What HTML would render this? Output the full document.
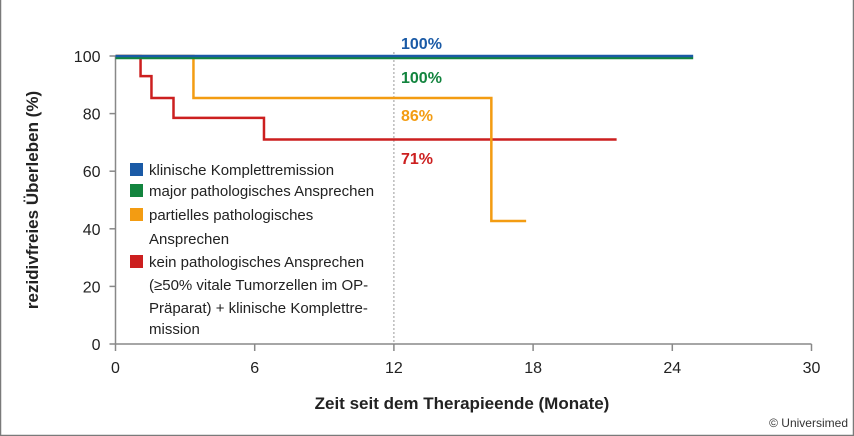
<!DOCTYPE html>
<html><head><meta charset="utf-8"><style>
body{margin:0;background:#fff}
svg{display:block;font-family:"Liberation Sans Narrow","Liberation Sans",sans-serif}
</style></head><body>
<svg width="854" height="436" viewBox="0 0 854 436">
<rect x="0.5" y="-2" width="853" height="437.5" fill="none" stroke="#7a7a7a" stroke-width="1.5"/>
<g id="axes"></g>
<g id="series"></g>
<text x="462" y="409" text-anchor="middle" font-size="17" font-weight="bold" fill="#222">Zeit seit dem Therapieende (Monate)</text>
<text transform="translate(38,200) rotate(-90)" text-anchor="middle" font-size="17" font-weight="bold" fill="#222">rezidivfreies Überleben (%)</text>
<text x="848" y="427" text-anchor="end" font-size="12" fill="#333">© Universimed</text>
<g font-size="15" fill="#222">
<g><rect x="130" y="163" width="13" height="13" fill="#1a5aa6"/><text x="149" y="175">klinische Komplettremission</text></g>
<g><rect x="130" y="184" width="13" height="13" fill="#12843e"/><text x="149" y="196">major pathologisches Ansprechen</text></g>
<g><rect x="130" y="208" width="13" height="13" fill="#f39c12"/><text x="149" y="220">partielles pathologisches</text><text x="149" y="244">Ansprechen</text></g>
<g><rect x="130" y="255" width="13" height="13" fill="#cc1f1f"/><text x="149" y="267">kein pathologisches Ansprechen</text><text x="149" y="290">(≥50% vitale Tumorzellen im OP-</text><text x="149" y="313">Präparat) + klinische Komplettre-</text><text x="149" y="334">mission</text></g>
</g>
<g font-size="16" font-weight="bold" font-family="Liberation Sans,sans-serif">
<text x="401" y="49" fill="#1a5aa6">100%</text>
<text x="401" y="83" fill="#12843e">100%</text>
<text x="401" y="121" fill="#f39c12">86%</text>
<text x="401" y="164" fill="#cc1f1f">71%</text>
</g>
</svg>
<script>
const xTicks=[0,6,12,18,24,30];
const yTicks=[0,20,40,60,80,100];
const blueT=[0,24.9], blueS=[100,100];
const greenT=[0,24.9], greenS=[99.3,99.3];
const orangeT=[0,3.36,16.2,17.7], orangeS=[100,85.4,42.7,42.7];
const redT=[0,1.08,1.55,2.5,6.4,21.6], redS=[100,93,85.4,78.5,71,71];
const X=t=>115.5+t*23.2, Y=v=>344-v*2.88;
const NS='http://www.w3.org/2000/svg';
const ax=document.getElementById('axes'), se=document.getElementById('series');
function mk(tag,attrs,parent){const e=document.createElementNS(NS,tag);for(const k in attrs)e.setAttribute(k,attrs[k]);parent.appendChild(e);return e;}
let l=mk('line',{x1:X(0),y1:Y(0),x2:X(30),y2:Y(0),stroke:'#888','stroke-width':1.5},ax);


l=mk('line',{x1:X(0),y1:Y(0),x2:X(0),y2:Y(100),stroke:'#888','stroke-width':1.5},ax);


l=mk('line',{x1:X(12),y1:Y(100)-4,x2:X(12),y2:Y(0),stroke:'#999','stroke-width':1,'stroke-dasharray':'2,2'},ax);


xTicks.forEach(t=>{
 const k=mk('line',{x1:X(t),y1:Y(0),x2:X(t),y2:Y(0)+7,stroke:'#888','stroke-width':1.5},ax);
 
 
 const tx=mk('text',{x:X(t),y:373,'text-anchor':'middle','font-size':16,fill:'#222'},ax);
 tx.textContent=t;
 
 
});
yTicks.forEach(v=>{
 const k=mk('line',{x1:X(0)-6,y1:Y(v),x2:X(0),y2:Y(v),stroke:'#888','stroke-width':1.5},ax);
 
 
 const tx=mk('text',{x:X(0)-15,y:Y(v)+6,'text-anchor':'end','font-size':16,fill:'#222'},ax);
 tx.textContent=v;
 
 
});
function step(T,S,color,name){
 let d='M'+X(T[0])+','+Y(S[0]);
 for(let i=1;i<T.length;i++){d+=' H'+X(T[i])+' V'+Y(S[i]);}
 const p=mk('path',{d:d,fill:'none',stroke:color,'stroke-width':2.5},se);
 
 
}
step(redT,redS,'#cc1f1f','series-red');
step(orangeT,orangeS,'#f39c12','series-orange');
step(greenT,greenS,'#12843e','series-green');
step(blueT,blueS,'#1a5aa6','series-blue');
</script>
</body></html>
